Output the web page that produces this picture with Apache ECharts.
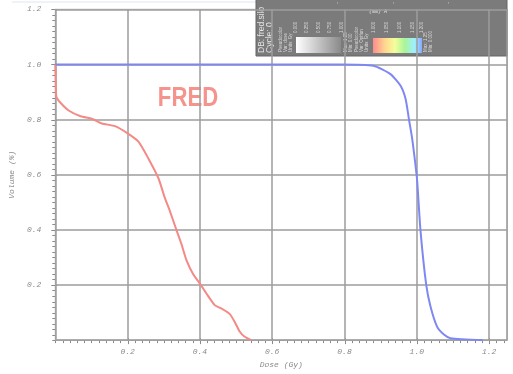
<!DOCTYPE html>
<html>
<head>
<meta charset="utf-8">
<script src="https://cdn.jsdelivr.net/npm/echarts@6/dist/echarts.min.js"></script>
<style>
html,body{margin:0;padding:0;background:#fff;}
#chart{width:513px;height:374px;}
</style>
</head>
<body>
<div id="chart"></div>
<script>
// Cumulative dose-volume curves
const redDose = [0, 0.001, 0.003, 0.015, 0.037, 0.07, 0.101, 0.129, 0.165, 0.2, 0.23, 0.257, 0.285, 0.303, 0.317, 0.335, 0.349, 0.363, 0.381, 0.4, 0.418, 0.441, 0.459, 0.482, 0.496, 0.51, 0.523, 0.542];
const redVolume = [1.0, 0.95, 0.883, 0.86, 0.833, 0.812, 0.803, 0.786, 0.776, 0.75, 0.72, 0.66, 0.588, 0.516, 0.468, 0.40, 0.348, 0.289, 0.24, 0.205, 0.169, 0.127, 0.115, 0.095, 0.067, 0.031, 0.013, 0.0];
const blueDose = [0, 0.79, 0.88, 0.927, 0.955, 0.969, 0.978, 0.987, 0.995, 1.001, 1.01, 1.026, 1.038, 1.056, 1.075, 1.093, 1.182];
const blueVolume = [1.0, 1.0, 0.995, 0.965, 0.923, 0.875, 0.803, 0.732, 0.649, 0.577, 0.40, 0.2, 0.121, 0.049, 0.02, 0.007, 0.0];

const xTicks = [0.2, 0.4, 0.6, 0.8, 1.0, 1.2];
const yTicks = [0.2, 0.4, 0.6, 0.8, 1.0, 1.2];
const grayBarLabels = ['0.000', '0.250', '0.500', '0.750', '1.000'];
const colorBarLabels = ['1.000', '1.050', '1.100', '1.150', '1.200'];

const zip = (xs, ys) => xs.map((x, i) => [x, ys[i]]);
const near = (v, list) => list.some(t => Math.abs(v - t) < 1e-6);

// Fine tick positions every 0.02 along each axis
const fineStep = 0.02;
const fineX = [];
for (let i = 0; i * fineStep <= 1.25 + 1e-9; i++) fineX.push(+(i * fineStep).toFixed(2));
const fineY = [];
for (let i = 0; i * fineStep <= 1.2 + 1e-9; i++) fineY.push(+(i * fineStep).toFixed(2));

const monoLabel = {
  fontFamily: '"Liberation Mono", "DejaVu Sans Mono", monospace',
  fontStyle: 'italic',
  fontSize: 8,
  color: '#8a8a8a'
};

const chart = echarts.init(document.getElementById('chart'));

// Small legend panel (database info + colour bars)
const legendChildren = [
  { type: 'rect', shape: { x: 256, y: -1, width: 251, height: 57 },
    style: { fill: '#7b7b7b', stroke: '#666', lineWidth: 1 } },
  { type: 'text', x: 262, y: 53, rotation: Math.PI / 2,
    style: { text: 'DB: fred.silo', fontSize: 8.5, fontFamily: 'Liberation Sans, sans-serif', fill: '#e6e6e6', align: 'left', verticalAlign: 'middle' } },
  { type: 'text', x: 270, y: 53, rotation: Math.PI / 2,
    style: { text: 'Cycle: 0', fontSize: 8.5, fontFamily: 'Liberation Sans, sans-serif', fill: '#e6e6e6', align: 'left', verticalAlign: 'middle' } },
  { type: 'rect', shape: { x: 296, y: 37, width: 45, height: 16 },
    style: { fill: new echarts.graphic.LinearGradient(0, 0, 1, 0, [
      { offset: 0, color: '#ffffff' }, { offset: 1, color: '#8a8a8a' }]) } },
  { type: 'rect', shape: { x: 373, y: 38, width: 49, height: 15 },
    style: { fill: new echarts.graphic.LinearGradient(0, 0, 1, 0, [
      { offset: 0, color: '#ff8c8c' }, { offset: 0.25, color: '#ffd890' },
      { offset: 0.45, color: '#f4ff9a' }, { offset: 0.65, color: '#a8f49a' },
      { offset: 0.85, color: '#9ef0ff' }, { offset: 1, color: '#8aa8ff' }]) } },
  { type: 'text', x: 378, y: 12,
    style: { text: '(mm) A', fontSize: 5, fontFamily: 'Liberation Mono, monospace', fontStyle: 'italic', fill: '#e8e8e8', align: 'center', verticalAlign: 'middle' } }
];
[338, 394, 449].forEach(x => legendChildren.push({
  type: 'text', x: x, y: 3, rotation: Math.PI / 2,
  style: { text: '-', fontSize: 5, fill: '#e8e8e8', align: 'center', verticalAlign: 'middle' }
}));
const smallRot = (x, y, txt) => ({
  type: 'text', x: x, y: y, rotation: Math.PI / 2,
  style: { text: txt, fontSize: 4.5, fontFamily: 'Liberation Sans, sans-serif', fill: '#d8d8d8', align: 'left', verticalAlign: 'middle' }
});
[295.7, 307, 319, 330, 342].forEach((x, i) => legendChildren.push(smallRot(x, 33, grayBarLabels[i])));
[373.5, 387, 400, 413, 422].forEach((x, i) => legendChildren.push(smallRot(x, 33, colorBarLabels[i])));
legendChildren.push(smallRot(281, 52, 'Pseudocolor'), smallRot(286, 52, 'Var: dose'), smallRot(291, 52, 'Units: Gy'));
legendChildren.push(smallRot(346, 52, 'Max: 1.25'), smallRot(351, 52, 'Min: 0.00'));
legendChildren.push(smallRot(357, 52, 'Pseudocolor'), smallRot(362, 52, 'Var: Optfun'), smallRot(367, 52, 'Units: Gy'));
legendChildren.push(smallRot(426, 52, 'Max: 1.25'), smallRot(431, 52, 'Min: 0.000'));

const option = {
  animation: false,
  backgroundColor: '#ffffff',
  grid: {
    left: 53.3, right: 5.8, top: 9.3, bottom: 30.3,
    show: true, borderColor: '#b0b0b0', borderWidth: 1, backgroundColor: 'transparent'
  },
  xAxis: {
    type: 'value', min: 0, max: 1.25, interval: 0.2,
    name: 'Dose (Gy)', nameLocation: 'middle', nameGap: 19,
    nameTextStyle: monoLabel,
    axisLine: { show: true, onZero: false, lineStyle: { color: '#a0a0a0', width: 1 } },
    axisTick: { show: false },
    splitLine: { show: true, lineStyle: { color: '#9c9c9c', width: 1.5 } },
    axisLabel: Object.assign({ margin: 8, showMaxLabel: false,
      formatter: v => near(v, xTicks) ? v.toFixed(1) : '' }, monoLabel)
  },
  yAxis: {
    type: 'value', min: 0, max: 1.2, interval: 0.2,
    name: 'Volume (%)', nameLocation: 'middle', nameGap: 32, nameRotate: 90,
    nameTextStyle: monoLabel,
    axisLine: { show: true, onZero: false, lineStyle: { color: '#a0a0a0', width: 1 } },
    axisTick: { show: false },
    splitLine: { show: true, lineStyle: { color: '#9c9c9c', width: 1.5 } },
    axisLabel: Object.assign({ margin: 14,
      formatter: v => near(v, yTicks) ? v.toFixed(1) : '' }, monoLabel)
  },
  series: [
    { type: 'line', name: 'fred', data: zip(redDose, redVolume), showSymbol: false, smooth: 0.2,
      lineStyle: { color: '#f38a86', width: 2 }, z: 3 },
    { type: 'line', name: 'target', data: zip(blueDose, blueVolume), showSymbol: false, smooth: 0.2,
      lineStyle: { color: '#7f88f2', width: 2 }, z: 3 }
  ],
  graphic: [
    { type: 'line', shape: { x1: 12, y1: 2, x2: 256, y2: 2 },
      style: { stroke: '#dfe6ee', lineWidth: 1 } },
    { type: 'text', x: 188, y: 99, scaleX: 0.82,
      style: { text: 'FRED', fontSize: 27, fontWeight: 'bold', fontFamily: 'Liberation Sans, Arial, sans-serif',
        fill: '#f4948c', align: 'center', verticalAlign: 'middle' } },
    { type: 'group', children: legendChildren, z: 100 }
  ]
};
chart.setOption(option);

// Tick combs along both axes, positioned through the chart's own scales
const tickStyle = { stroke: '#8a8a8a', lineWidth: 1 };
const tickLines = [];
fineX.forEach(v => {
  const p = chart.convertToPixel({ gridIndex: 0 }, [v, 0]);
  const major = near(v, xTicks);
  const x = Math.round(p[0]) + 0.5;
  tickLines.push({ type: 'line', silent: true,
    shape: { x1: x, y1: p[1] - (major ? 2 : 0), x2: x, y2: p[1] + (major ? 4 : 3) }, style: tickStyle });
});
fineY.forEach(v => {
  const p = chart.convertToPixel({ gridIndex: 0 }, [0, v]);
  const major = near(v, yTicks);
  const y = Math.round(p[1]) + 0.5;
  tickLines.push({ type: 'line', silent: true,
    shape: { x1: p[0] + (major ? 2 : 0), y1: y, x2: p[0] - (major ? 4 : 3), y2: y }, style: tickStyle });
});
chart.setOption({ graphic: option.graphic.concat([{ type: 'group', children: tickLines, z: 50 }]) });
</script>
</body>
</html>
